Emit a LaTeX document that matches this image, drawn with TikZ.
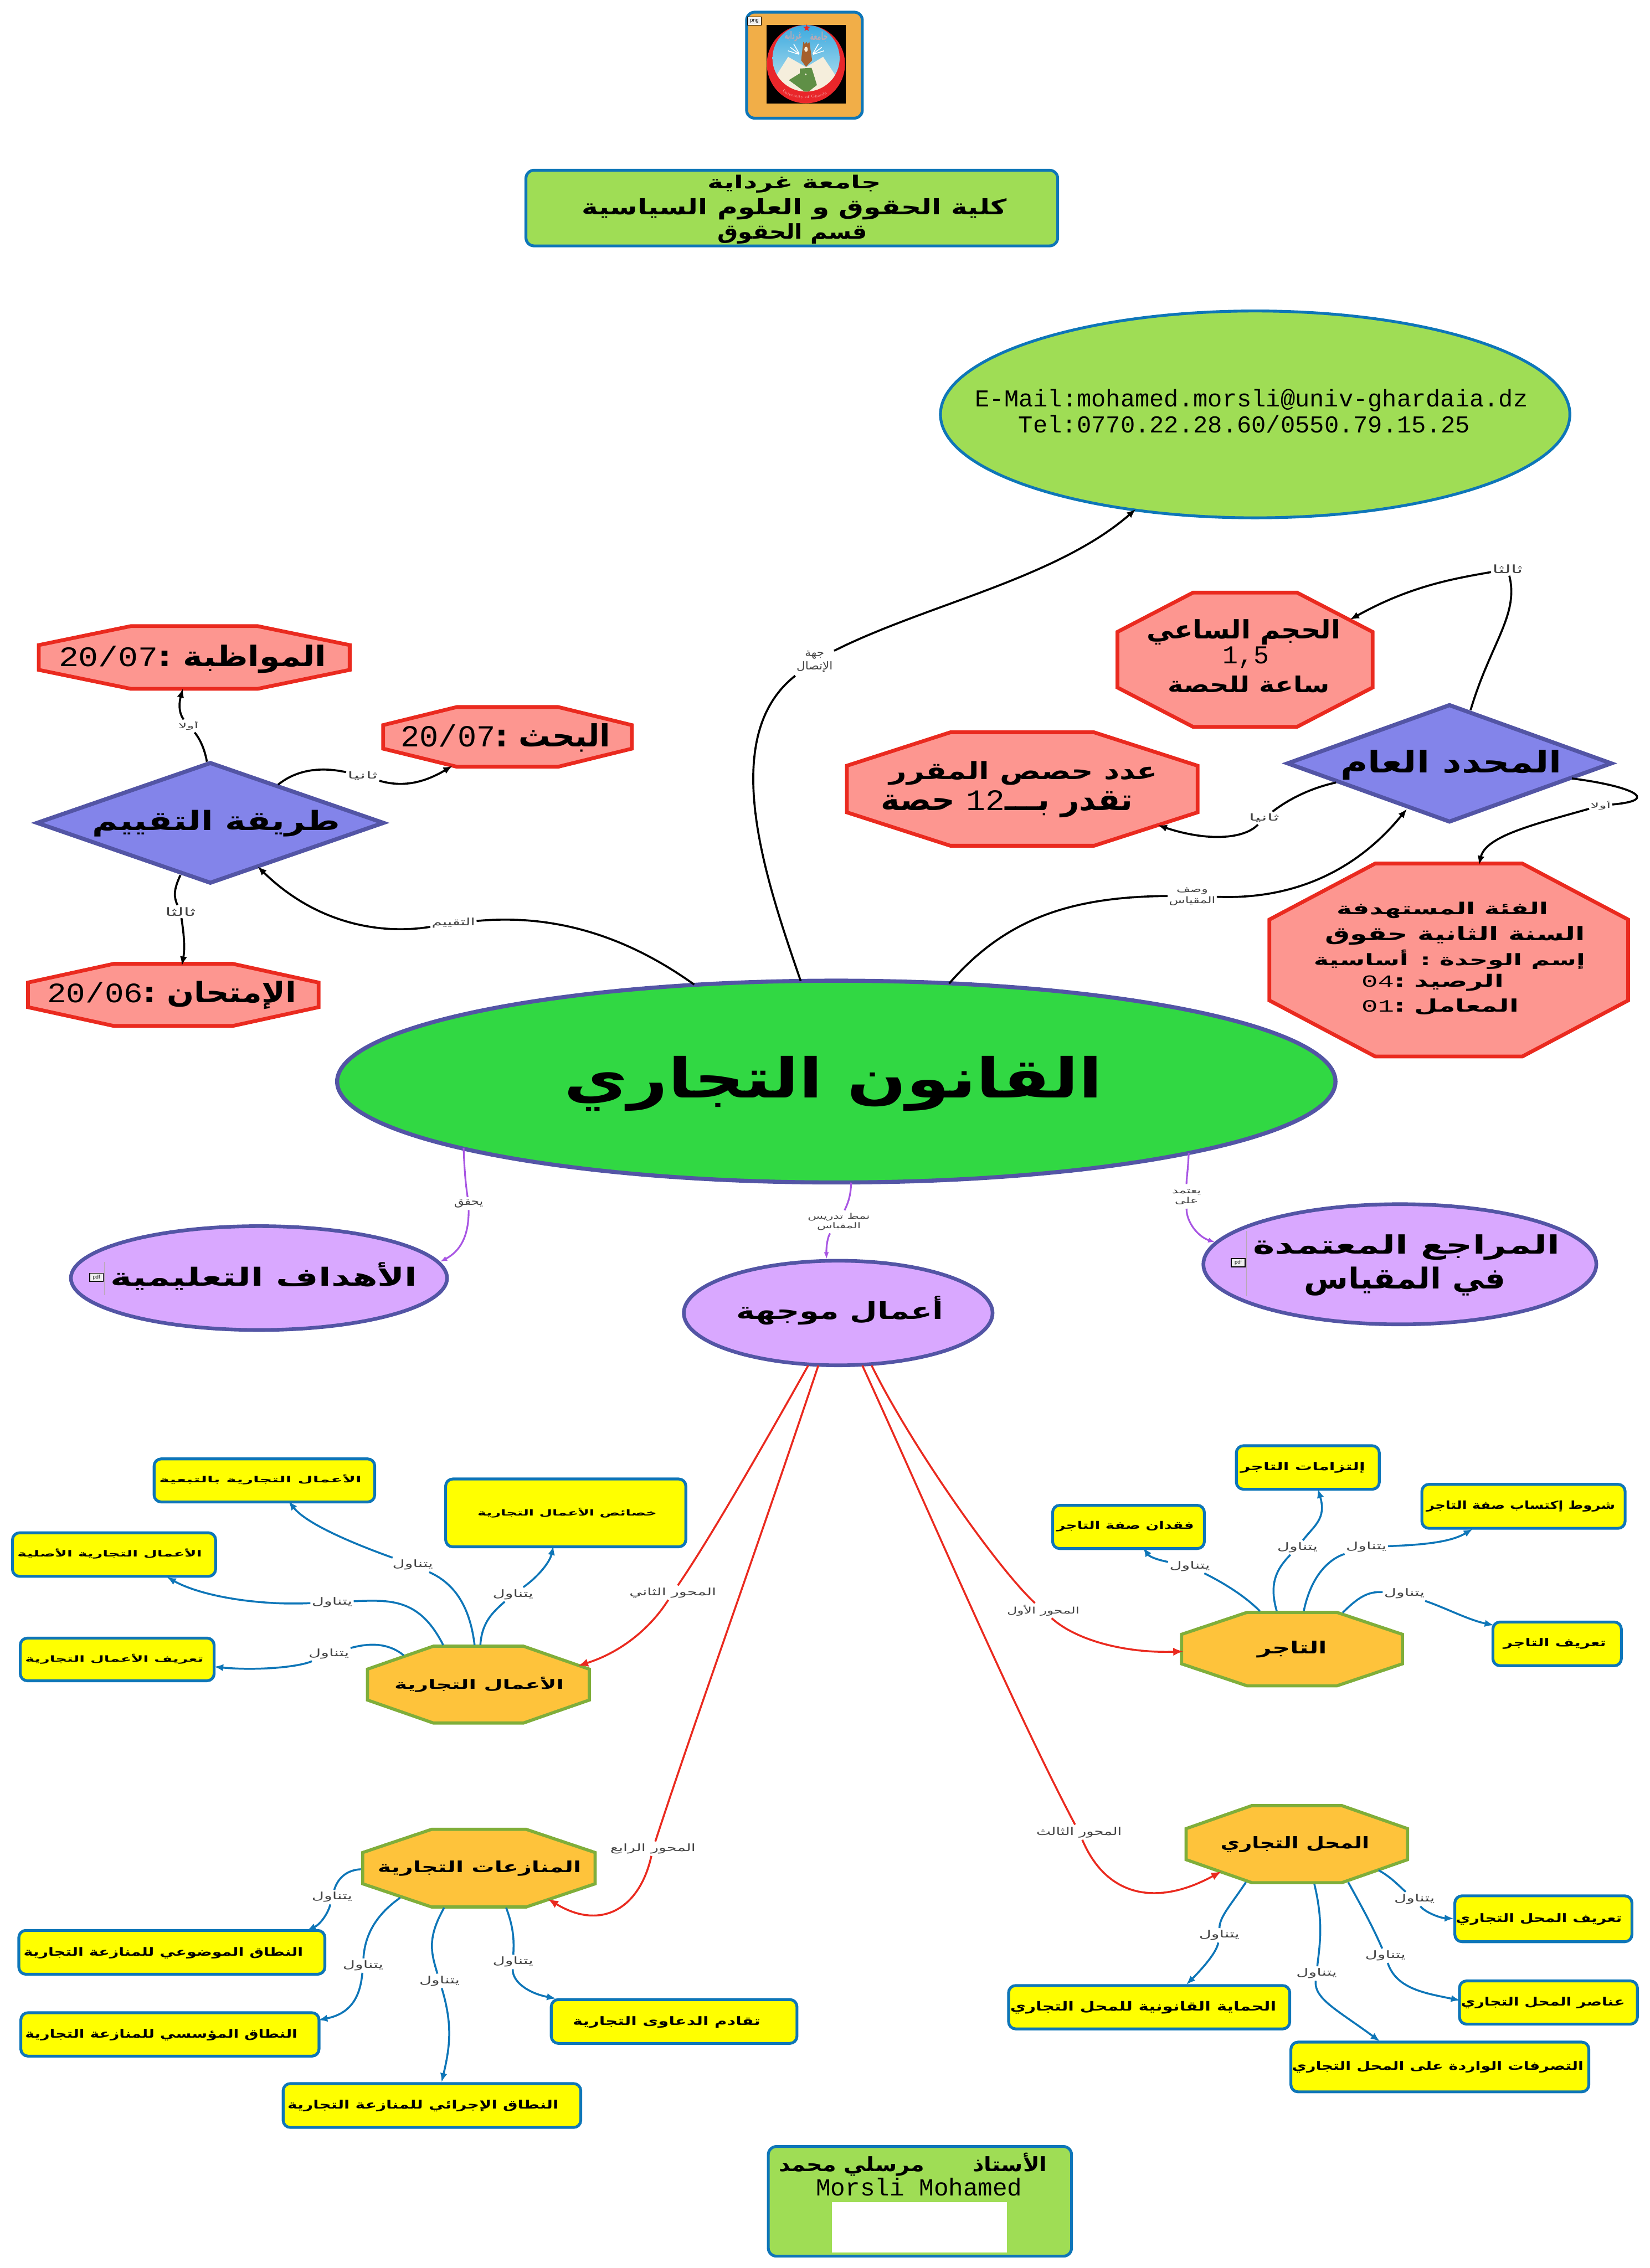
\documentclass[tikz,border=0pt]{standalone}
\usepackage{graphicx}
\usepackage{fontspec}
\usetikzlibrary{arrows.meta,calc,shapes.geometric,decorations.text}
\TeXXeTstate=1
\newfontfamily\arf[Script=Arabic]{DejaVu Sans}
\newfontfamily\mon{Liberation Mono}
\newfontfamily\sanf{Liberation Sans}
\definecolor{cblue}{HTML}{0E76B8}
\definecolor{cnavy}{HTML}{5355A5}
\definecolor{cgreen}{HTML}{31D843}
\definecolor{clime}{HTML}{9FDD55}
\definecolor{corange}{HTML}{F1AE48}
\definecolor{csalmon}{HTML}{FD9690}
\definecolor{cred}{HTML}{EA2A1F}
\definecolor{cdia}{HTML}{8384EA}
\definecolor{cpurp}{HTML}{D9A8FF}
\definecolor{cline}{HTML}{A855E3}
\definecolor{cgold}{HTML}{FEC33B}
\definecolor{colive}{HTML}{7FAE3A}
\definecolor{cgrey}{HTML}{444444}
\definecolor{cyel}{HTML}{FFFF00}
\definecolor{skytop}{HTML}{3AA9DF}
\definecolor{skylow}{HTML}{A5D9EC}
\definecolor{ccream}{HTML}{F5EEDC}
\definecolor{cleaf}{HTML}{5F8F46}
\definecolor{cbrown}{HTML}{A5602D}
\definecolor{lred}{HTML}{E9262A}
\definecolor{cgraph}{HTML}{B9A9B5}
\newlength\uu \setlength\uu{0.05cm}
\newsavebox\txbox
\newcommand\Rr[1]{\beginR #1\endR}
\newcommand\Ln[1]{\beginL{\mon\mdseries #1}\endL}
\def\pbox#1,#2,#3,#4\relax{\def\ax{#1}\def\ay{#2}\def\bx{#3}\def\by{#4}}
\def\ptx#1,#2,#3,#4\relax{\def\tax{#1}\def\tay{#2}\def\tbx{#3}\def\tby{#4}}
\def\pxy#1,#2\relax{\def\px{#1}\def\py{#2}}
\newcommand\geom[2]{%
  \pbox#2\relax
  \pgfmathsetmacro\cx{(\ax+\bx)/2}%
  \pgfmathsetmacro\cy{(\ay+\by)/2}%
  \pgfmathsetmacro\Wd{\bx-\ax}%
  \pgfmathsetmacro\Ht{\by-\ay}%
  \pgfmathsetmacro\WW{(\Wd-2)*0.05}%
  \pgfmathsetmacro\HHH{(\Ht-2)*0.05}%
  \expandafter\xdef\csname cx@#1\endcsname{\cx}%
  \expandafter\xdef\csname cy@#1\endcsname{\cy}%
}
\newcommand\Place{%
  \makebox[0pt]{\hspace*{\tdx\uu}\hspace*{\tdx\uu}\raisebox{\dimexpr(\dp\txbox-\ht\txbox)/2-\tdy\uu\relax}[0pt][0pt]{\usebox\txbox}}\ignorespaces
}
\newcommand\Calc[1]{%
  \ptx#1\relax
  \pgfmathsetmacro\tW{\tbx-\tax}%
  \pgfmathsetmacro\tH{\tby-\tay}%
  \pgfmathsetmacro\tdx{(\tax+\tbx)/2-\cx}%
  \pgfmathsetmacro\tdy{(\tay+\tby)/2-\cy}%
}
\newcommand\Tx[2]{\Calc{#1}\sbox\txbox{\resizebox*{\tW\uu}{\tH\uu}{\arf\bfseries #2}}\Place}
\newcommand\Tn[2]{\Calc{#1}\sbox\txbox{\resizebox{\tW\uu}{!}{\mon #2}}\Place}
\newcommand\boxn[4]{\geom{#2}{#3}\node[#1,minimum width=\WW cm,minimum height=\HHH cm] (#2) at (\cx,\cy) {#4};}
\newcommand\octn[4]{\geom{#2}{#3}%
  \pgfmathsetmacro\xa{\ax+1.3}\pgfmathsetmacro\xb{\bx-1.3}%
  \pgfmathsetmacro\ya{\ay+1.3}\pgfmathsetmacro\yb{\by-1.3}%
  \pgfmathsetmacro\cxx{0.292*\Wd}\pgfmathsetmacro\cyy{0.285*\Ht}%
  \draw[#1] ({\xa+\cxx},\ya) -- ({\xb-\cxx},\ya) -- (\xb,{\ya+\cyy}) -- (\xb,{\yb-\cyy}) -- ({\xb-\cxx},\yb) -- ({\xa+\cxx},\yb) -- (\xa,{\yb-\cyy}) -- (\xa,{\ya+\cyy}) -- cycle;
  \node[inv,minimum width=\WW cm,minimum height=\HHH cm] (#2) at (\cx,\cy) {#4};}
\newcommand\dian[4]{\geom{#2}{#3}%
  \draw[#1] (\cx,{\ay+2.5}) -- ({\bx-5},\cy) -- (\cx,{\by-2.5}) -- ({\ax+5},\cy) -- cycle;
  \node[inv,minimum width=\WW cm,minimum height=\HHH cm] (#2) at (\cx,\cy) {#4};}
\newcommand\lab[4]{%
  \pxy#2\relax\let\Lx\px\let\Ly\py
  \pxy#3\relax\let\Lw\px\let\Lh\py
  \pgfmathsetmacro\Lax{\Lx-\Lw/2}\pgfmathsetmacro\Lbx{\Lx+\Lw/2}%
  \pgfmathsetmacro\Lay{\Ly-\Lh/2}\pgfmathsetmacro\Lby{\Ly+\Lh/2}%
  \pgfmathsetmacro\LW{(\Lw+2)*0.05}\pgfmathsetmacro\LH{(\Lh+3)*0.05}%
  \let\cx\Lx\let\cy\Ly
  \node[lbl,minimum width=\LW cm,minimum height=\LH cm] (#1) at (\Lx,\Ly) {\Tx{\Lax,\Lay,\Lbx,\Lby}{\mdseries #4}};}
\newcommand\conn[8]{%
  \pxy#3\relax
  \pgfmathsetmacro\oax{\px-\csname cx@#2\endcsname}%
  \pgfmathsetmacro\oay{\py-\csname cy@#2\endcsname}%
  \pxy#8\relax
  \pgfmathsetmacro\obx{\px-\csname cx@#7\endcsname}%
  \pgfmathsetmacro\oby{\py-\csname cy@#7\endcsname}%
  \draw[#1] ($(#2)+(\oax,\oay)$) .. controls #4 .. (#5) .. controls #6 .. ($(#7)+(\obx,\oby)$);}
\tikzset{
  inv/.style={inner sep=0pt,outer sep=0pt},
  lbl/.style={inner sep=0pt,outer sep=0pt,text=cgrey},
  yel/.style={draw=cblue,fill=cyel,line width=2.8pt,rounded corners=7pt,inner sep=0pt,outer sep=0pt},
  limebox/.style={draw=cblue,fill=clime,line width=2.8pt,rounded corners=8pt,inner sep=0pt,outer sep=0pt},
  logobox/.style={draw=cblue,fill=corange,line width=2.8pt,rounded corners=8pt,inner sep=0pt,outer sep=0pt},
  limeell/.style={ellipse,draw=cblue,fill=clime,line width=2.8pt,inner sep=0pt,outer sep=0pt},
  mainell/.style={ellipse,draw=cnavy,fill=cgreen,line width=4pt,inner sep=0pt,outer sep=0pt},
  purpell/.style={ellipse,draw=cnavy,fill=cpurp,line width=3.6pt,inner sep=0pt,outer sep=0pt},
  redoct/.style={draw=cred,fill=csalmon,line width=3.7pt},
  goldoct/.style={draw=colive,fill=cgold,line width=3.1pt},
  diamondpoly/.style={draw=cnavy,fill=cdia,line width=4pt},
  blk/.style={draw=black,line width=2pt,-{Latex[length=9pt,width=7pt]}},
  blu/.style={draw=cblue,line width=1.9pt,-{Latex[length=9pt,width=7pt]}},
  rdl/.style={draw=cred,line width=1.9pt,-{Latex[length=10pt,width=8pt]}},
  prp/.style={draw=cline,line width=1.7pt,-{Latex[length=7pt,width=5pt]}},
  icon/.style={draw=black,fill=black!6,line width=0.9pt,inner sep=0pt,outer sep=0pt,minimum width=13.5pt,minimum height=8.2pt,font=\sanf\fontsize{5}{5}\selectfont},
}
\begin{document}
\begin{tikzpicture}[x=0.05cm,y=-0.05cm]
\fill[white] (0,0) rectangle (1140.2,1568);
\useasboundingbox (0,0) rectangle (1140.2,1568);

% ---- logo
\boxn{logobox}{logo}{515,7.4,597,82.7}{}
\fill[black] (529.8,17.1) rectangle (584.4,71.5);
\fill[lred] (557,44.3) ellipse [x radius=27,y radius=27.1];
\begin{scope}
\clip (557.1,40.3) ellipse [x radius=23.2,y radius=23];
\shade[top color=skytop,bottom color=skylow] (530,17) rectangle (584,55);
\fill[ccream] (537.2,51.2) -- (544.7,39.3) -- (557.1,46.4) -- (568.9,39.3) -- (577.4,52.1) -- (581,70) -- (533,70) -- cycle;
\draw[white,line width=0.8pt] (552.3,37) -- (548.5,30.3) (552.3,37.3) -- (546.2,32.7) (552.3,37.6) -- (544.6,35.1) (561.9,37) -- (565.7,30.3) (561.9,37.3) -- (568,32.7) (561.9,37.6) -- (569.6,35.1);
\fill[cbrown] (555.2,28.9) -- (556.2,30.4) -- (557.3,28.9) -- (558.3,30.4) -- (559.4,28.9) -- (561.3,41.7) -- (557.1,46.2) -- (553.7,41.7) -- cycle;
\fill[ccream] (557.1,34.1) ellipse [x radius=1.2,y radius=1.8];
\fill[cleaf] (552.8,47.4) -- (560.9,46.9) -- (562.3,51.2) -- (564.6,58.8) -- (557.5,64.4) -- (545.2,55.4) -- (552.8,50.7) -- cycle;
\fill[ccream] (556.9,51.4) circle [radius=0.6];
\end{scope}
\node[star,star points=5,star point ratio=2.2,fill=lred,minimum size=7pt,inner sep=0pt] (logostar) at (557.5,19.4) {};
\boxn{inv,text=cgraph}{calA}{542.4,21.8,554.2,28.9}{\Tx{542.4,21.8,554.2,28.9}{\Rr{غرداية}}}
\boxn{inv,text=cgraph}{calB}{559.9,21.8,572.2,28.9}{\Tx{559.9,21.8,572.2,28.9}{\Rr{جامعة}}}
\path[decorate,decoration={text along path,text align=center,text={|\fontsize{3.7}{4}\selectfont\color{black!5!pink}|University of Ghardaia}}] (542.4,64.4) .. controls (548,69) and (566,69) .. (571.8,64.4);
\node[icon] (logoicon) at (521.4,14.6) {png};

% ---- top boxes
\boxn{limebox}{head}{362.5,116.7,732,171}{%
 \Tx{489,120.8,609,133.2}{\Rr{جامعة غرداية}}%
 \Tx{402.3,137.3,696,152}{\Rr{كلية الحقوق و العلوم السياسية}}%
 \Tx{496,154.4,599.4,168.5}{\Rr{قسم الحقوق}}}
\boxn{limeell}{contact}{649,214,1086,359}{%
 \Tn{674,269,1056,285}{E-Mail:mohamed.morsli@univ-ghardaia.dz}%
 \Tn{704,285,1016,301}{Tel:0770.22.28.60/0550.79.15.25}}

% ---- red octagons
\octn{redoct}{mowa}{25.5,431.6,243,477.5}{\Tx{40.6,445.7,225.6,465.3}{\Rr{المواظبة :\Ln{20/07}}}}
\octn{redoct}{bahth}{263.5,487.5,438,531.4}{\Tx{277,500,422,519.7}{\Rr{البحث :\Ln{20/07}}}}
\octn{redoct}{imti}{18,665,221.5,710.6}{\Tx{32.7,678.5,205,698}{\Rr{الإمتحان :\Ln{20/06}}}}
\octn{redoct}{hajm}{771,408.4,950,503.8}{%
 \Tx{792.5,428.4,926.5,446}{\Rr{الحجم الساعي}}%
 \Tn{845,447.7,877,461.4}{1,5}%
 \Tx{807,467.3,919,479}{\Rr{ساعة للحصة}}}
\octn{redoct}{adad}{584,505,829,586}{%
 \Tx{614.6,526.2,800.2,542.7}{\Rr{عدد حصص المقرر}}%
 \Tx{608.9,546.3,783,565.1}{\Rr{تقدر بـــ\Ln{12} حصة}}}
\octn{redoct}{fia}{876,595.7,1126.6,731.7}{%
 \Tx{923.8,623.6,1070,635}{\Rr{الفئة المستهدفة}}%
 \Tx{915.8,640.5,1095.6,653.5}{\Rr{السنة الثانية حقوق}}%
 \Tx{908,656.5,1095.6,670}{\Rr{إسم الوحدة : أساسية}}%
 \Tx{941,673.5,1039.4,685.3}{\Rr{الرصيد :\Ln{04}}}%
 \Tx{941,690.5,1049.7,701.8}{\Rr{المعامل :\Ln{01}}}}

% ---- diamonds
\dian{diamondpoly}{taqyim}{20.7,525,270,612.8}{\Tx{63.7,560,235,578.4}{\Rr{طريقة التقييم}}}
\dian{diamondpoly}{muhadd}{885,485,1118.6,570.5}{\Tx{926.5,518.5,1079.5,539.2}{\Rr{المحدد العام}}}

% ---- main ellipses
\boxn{mainell}{main}{232,677,924,818.5}{\Tx{390,730,762,768}{\Rr{القانون التجاري}}}
\boxn{purpell}{ahdaf}{48,846.7,310,920.5}{\Tx{76.5,872.6,288.5,891.8}{\Rr{الأهداف التعليمية}}}
\boxn{purpell}{aamal}{471.6,870.6,687,944.9}{\Tx{509,896,652,916}{\Rr{أعمال موجهة}}}
\boxn{purpell}{maraj}{830.7,831.5,1104.3,916.6}{%
 \Tx{866,853.6,1078,871.2}{\Rr{المراجع المعتمدة}}%
 \Tx{901.4,876,1040.7,896}{\Rr{في المقياس}}}
\draw[cgraph,line width=0.5pt] (72.3,872.5) -- (72.3,895.5);
\draw[cgraph,line width=0.5pt] (861.5,851) -- (861.5,896);
\node[icon] (ic1) at (66.7,883.1) {pdf};
\node[icon] (ic2) at (855.8,873) {pdf};

% ---- gold octagons
\octn{goldoct}{oAamal}{252.7,1136.8,408.6,1192.5}{\Tx{272.6,1159.4,389.7,1170}{\Rr{الأعمال التجارية}}}
\octn{goldoct}{oTajir}{815.3,1113.4,970.6,1166.8}{\Tx{869,1134.4,917,1146}{\Rr{التاجر}}}
\octn{goldoct}{oMahal}{818.5,1247,974.1,1302.9}{\Tx{843.6,1269.6,946.4,1280.7}{\Rr{المحل التجاري}}}
\octn{goldoct}{oMunaz}{249.4,1263.4,412.6,1319.7}{\Tx{261,1286.3,401.7,1296.9}{\Rr{المنازعات التجارية}}}

% ---- yellow boxes
\boxn{yel}{y1}{105.5,1007.6,260,1039.4}{\Tx{110,1019.5,250,1026.4}{\Rr{الأعمال التجارية بالتبعية}}}
\boxn{yel}{y2}{307,1021.5,475,1070.4}{\Tx{330,1042.4,454,1049.2}{\Rr{خصائص الأعمال التجارية}}}
\boxn{yel}{y3}{7.6,1058.7,150,1090.8}{\Tx{12,1070.8,139.6,1077.8}{\Rr{الأعمال التجارية الأصلية}}}
\boxn{yel}{y4}{13,1131.5,149,1163}{\Tx{17.4,1143.5,140.7,1150.4}{\Rr{تعريف الأعمال التجارية}}}
\boxn{yel}{y5}{726.5,1039.7,833.4,1071.6}{\Tx{730.3,1051.8,825.2,1059}{\Rr{فقدان صفة التاجر}}}
\boxn{yel}{y6}{853.5,998.5,954.3,1030.6}{\Tx{857.3,1010.9,943.5,1018.4}{\Rr{إلتزامات التاجر}}}
\boxn{yel}{y7}{981.7,1025.2,1124.2,1057.6}{\Tx{985.8,1037.5,1116.3,1045.2}{\Rr{شروط إكتساب صفة التاجر}}}
\boxn{yel}{y8}{1030.8,1120.4,1121.6,1152.6}{\Tx{1039,1132.7,1110,1140.2}{\Rr{تعريف التاجر}}}
\boxn{yel}{y9}{1004.5,1309.7,1128.9,1343.4}{\Tx{1006.2,1322.8,1121,1330.8}{\Rr{تعريف المحل التجاري}}}
\boxn{yel}{y10}{1007.7,1368.5,1132.7,1400.4}{\Tx{1009.7,1380.8,1123,1388.8}{\Rr{عناصر المحل التجاري}}}
\boxn{yel}{y11}{891.2,1410.8,1099.1,1447.2}{\Tx{893,1425,1094.4,1433}{\Rr{التصرفات الواردة على المحل التجاري}}}
\boxn{yel}{y12}{696.1,1371.7,892.4,1403.7}{\Tx{698.2,1383.7,882.1,1392.4}{\Rr{الحماية القانونية للمحل التجاري}}}
\boxn{yel}{y13}{12,1333.6,225.5,1365.9}{\Tx{16.3,1346.1,209.5,1354}{\Rr{النطاق الموضوعي للمنازعة التجارية}}}
\boxn{yel}{y14}{13.4,1390.5,221.5,1422.5}{\Tx{17.4,1403,205.6,1411}{\Rr{النطاق المؤسسي للمنازعة التجارية}}}
\boxn{yel}{y15}{194.7,1439.5,402.4,1471.8}{\Tx{198.7,1451.9,386,1460}{\Rr{النطاق الإجرائي للمنازعة التجارية}}}
\boxn{yel}{y16}{380,1381.4,551.8,1413.7}{\Tx{395.9,1394,525.7,1402}{\Rr{تقادم الدعاوى التجارية}}}

% ---- bottom box
\boxn{limebox}{prof}{530,1483,741.6,1560.8}{%
 \Tx{538.5,1488.5,723.7,1504.6}{\Rr{الأستاذ\hspace{2.2em}مرسلي محمد}}%
 \Tn{564,1506,706.5,1518}{Morsli Mohamed}}
\fill[white] (574.9,1522.5) rectangle (696,1557.2);

% ---- labels
\lab{l1}{130.2,501.9}{14,6}{\Rr{أولا}}
\lab{l2}{250.7,536.4}{21,6}{\Rr{ثانيا}}
\lab{l3}{124.7,630.2}{21,6}{\Rr{ثالثا}}
\lab{l4}{313.4,638.2}{30,7}{\Rr{التقييم}}
\lab{l5}{563,456.7}{25,18}{\begin{tabular}{@{}c@{}}\Rr{جهة}\\\Rr{الإتصال}\end{tabular}}
\lab{l6}{1042,393.5}{21,6}{\Rr{ثالثا}}
\lab{l7}{873.7,565.6}{21,6}{\Rr{ثانيا}}
\lab{l8}{1106.3,556.9}{14,6}{\Rr{أولا}}
\lab{l9}{824,619.3}{32,15}{\begin{tabular}{@{}c@{}}\Rr{وصف}\\\Rr{المقياس}\end{tabular}}
\lab{l10}{323.9,832.1}{20,6}{\Rr{يحقق}}
\lab{l11}{579.8,844.7}{43,13}{\begin{tabular}{@{}c@{}}\Rr{نمط تدريس}\\\Rr{المقياس}\end{tabular}}
\lab{l12}{820.1,827.1}{20,14}{\begin{tabular}{@{}c@{}}\Rr{يعتمد}\\\Rr{على}\end{tabular}}
\lab{r1}{721,1113.5}{50,7.5}{\Rr{المحور الأول}}
\lab{r2}{465,1101.1}{60,7}{\Rr{المحور الثاني}}
\lab{r3}{745.8,1266.7}{59,7.5}{\Rr{المحور الثالث}}
\lab{r4}{451.3,1278.1}{59,7}{\Rr{المحور الرابع}}
\lab{b1}{285.3,1081.9}{28,7}{\Rr{يتناول}}
\lab{b2}{354.6,1102.3}{28,7}{\Rr{يتناول}}
\lab{b3}{229.5,1107.6}{28,7}{\Rr{يتناول}}
\lab{b4}{227.3,1143.5}{28,7}{\Rr{يتناول}}
\lab{b5}{822.3,1082.7}{28,7}{\Rr{يتناول}}
\lab{b6}{896.7,1069.9}{28,7}{\Rr{يتناول}}
\lab{b7}{944.3,1069.5}{28,7}{\Rr{يتناول}}
\lab{b8}{970.6,1101.8}{28,7}{\Rr{يتناول}}
\lab{b9}{842.7,1338}{28,7}{\Rr{يتناول}}
\lab{b10}{909.9,1364.4}{28,7}{\Rr{يتناول}}
\lab{b11}{957.5,1352.1}{28,7}{\Rr{يتناول}}
\lab{b12}{977.6,1312.9}{28,7}{\Rr{يتناول}}
\lab{b13}{229.5,1311.6}{28,7}{\Rr{يتناول}}
\lab{b14}{250.9,1358.9}{28,7}{\Rr{يتناول}}
\lab{b15}{303.8,1369.5}{28,7}{\Rr{يتناول}}
\lab{b16}{354.6,1356.4}{28,7}{\Rr{يتناول}}

% ---- black connectors
\conn{blk}{taqyim}{143,526.6}{(141,515) and (136,508)}{l1}{(123,492) and (124,485)}{mowa}{126.4,476}
\conn{blk}{taqyim}{192.2,542.5}{(205,532) and (222,530)}{l2}{(280,545) and (295,540)}{bahth}{312.7,529.5}
\conn{blk}{taqyim}{124.7,605}{(120,615) and (120,620)}{l3}{(127,645) and (128,655)}{imti}{125.7,667.6}
\conn{blk}{main}{479.8,680.7}{(430,645) and (380,632)}{l4}{(265,646) and (220,640)}{taqyim}{178,599}
\conn{blk}{main}{553.4,678.2}{(530,610) and (495,510)}{l5}{(640,418) and (730,400)}{contact}{785,352}
\conn{blk}{muhadd}{1016.4,490.9}{(1030,445) and (1050,425)}{l6}{(1005,400) and (975,405)}{hajm}{933,428.4}
\conn{blk}{muhadd}{923.4,541}{(905,545) and (890,553)}{l7}{(860,580) and (835,582)}{adad}{800.2,570.5}
\conn{blk}{muhadd}{1086.4,538.2}{(1125,543) and (1150,553)}{l8}{(1060,570) and (1027,578)}{fia}{1022.1,598}
\conn{blk}{main}{656,680}{(695,635) and (740,620)}{l9}{(890,622) and (935,605)}{muhadd}{972.4,559.2}

% ---- purple connectors
\conn{prp}{main}{320.4,793.5}{(321,810) and (322,820)}{l10}{(324,855) and (318,865)}{ahdaf}{304.1,872.4}
\conn{prp}{main}{588.3,817.6}{(588,825) and (587,830)}{l11}{(572,855) and (571,862)}{aamal}{571.3,870.6}
\conn{prp}{main}{821.6,797}{(821,810) and (820,815)}{l12}{(820,845) and (828,855)}{maraj}{839.9,858.9}

% ---- red connectors
\conn{rdl}{aamal}{602.4,944}{(630,1000) and (690,1085)}{r1}{(745,1135) and (780,1143)}{oTajir}{817.9,1141.7}
\conn{rdl}{aamal}{558.6,944}{(530,995) and (490,1065)}{r2}{(450,1125) and (430,1142)}{oAamal}{399.5,1151.7}
\conn{rdl}{aamal}{596,944}{(640,1040) and (700,1180)}{r3}{(765,1312) and (800,1318)}{oMahal}{844.2,1293.8}
\conn{rdl}{aamal}{565.6,944}{(520,1080) and (480,1190)}{r4}{(442,1320) and (415,1335)}{oMunaz}{378.8,1312.9}

% ---- blue connectors
\conn{blu}{oAamal}{328,1137.3}{(325,1112) and (315,1095)}{b1}{(252,1070) and (213,1055)}{y1}{199.4,1037.8}
\conn{blu}{oAamal}{332,1137.3}{(333,1122) and (340,1115)}{b2}{(372,1090) and (380,1080)}{y2}{382.5,1068.8}
\conn{blu}{oAamal}{306.3,1137.3}{(290,1105) and (270,1106)}{b3}{(180,1110) and (140,1104)}{y3}{115.3,1090.3}
\conn{blu}{oAamal}{279,1144.4}{(270,1137) and (258,1135)}{b4}{(205,1153) and (175,1155)}{y4}{148,1152.3}
\conn{blu}{oTajir}{870.7,1113.8}{(860,1103) and (845,1094)}{b5}{(803,1079) and (795,1077)}{y5}{790.1,1069.9}
\conn{blu}{oTajir}{882.4,1113.8}{(877,1095) and (882,1085)}{b6}{(908,1055) and (917,1050)}{y6}{910.8,1029.3}
\conn{blu}{oTajir}{901.1,1113.8}{(906,1090) and (918,1078)}{b7}{(985,1068) and (1003,1066)}{y7}{1017.9,1057}
\conn{blu}{oTajir}{928,1114.9}{(938,1105) and (945,1100)}{b8}{(1000,1112) and (1015,1120)}{y8}{1032.5,1123.6}
\conn{blu}{oMahal}{861.1,1301.3}{(850,1318) and (843,1325)}{b9}{(841,1350) and (830,1362)}{y12}{819.9,1372.1}
\conn{blu}{oMahal}{908.4,1302.5}{(915,1330) and (912,1345)}{b10}{(908,1382) and (925,1390)}{y11}{953.7,1411.3}
\conn{blu}{oMahal}{931.8,1301.3}{(945,1325) and (950,1335)}{b11}{(965,1375) and (985,1378)}{y10}{1009.2,1383}
\conn{blu}{oMahal}{952.8,1293}{(962,1298) and (968,1305)}{b12}{(985,1322) and (995,1326)}{y9}{1004.8,1326.4}
\conn{blu}{oMunaz}{249.4,1292.3}{(238,1293) and (233,1300)}{b13}{(227,1322) and (222,1330)}{y13}{212,1334.9}
\conn{blu}{oMunaz}{276.6,1312}{(258,1325) and (252,1340)}{b14}{(249,1380) and (243,1392)}{y14}{220,1396.6}
\conn{blu}{oMunaz}{307,1318.9}{(295,1340) and (298,1350)}{b15}{(313,1400) and (311,1415)}{y15}{305.2,1439.6}
\conn{blu}{oMunaz}{349.8,1318.9}{(356,1335) and (355,1345)}{b16}{(354,1370) and (365,1378)}{y16}{384.3,1381.7}
\end{tikzpicture}
\end{document}
